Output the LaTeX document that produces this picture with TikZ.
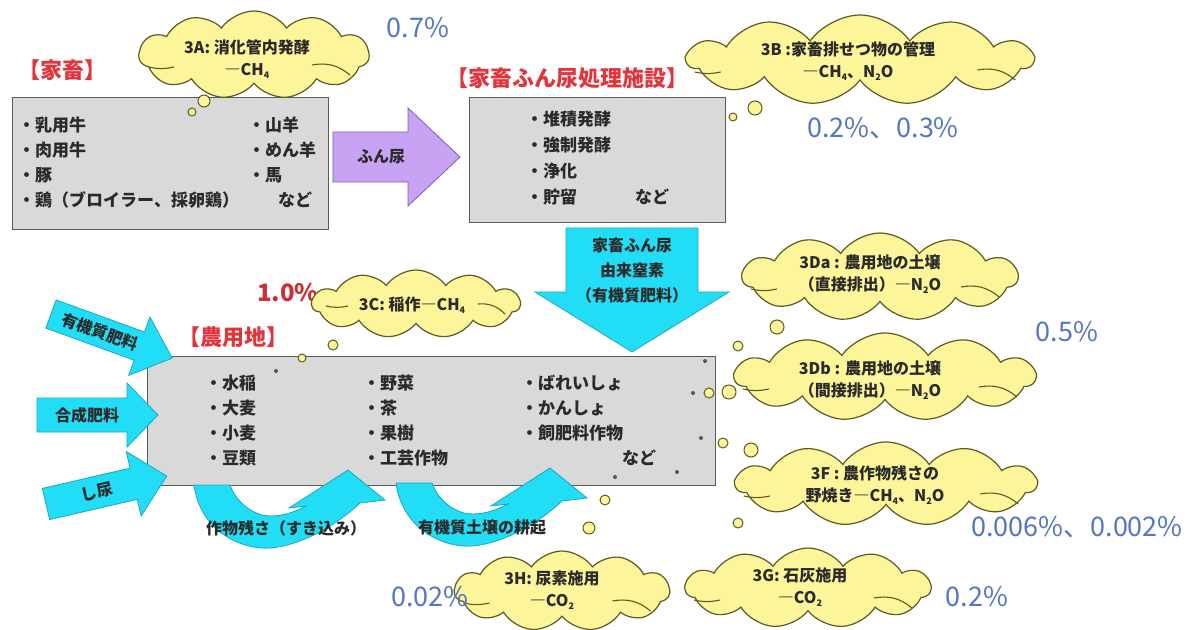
\documentclass[tikz,border=0pt]{standalone}
\usepackage{fontspec}
\setmainfont{Noto Sans CJK JP}
\usetikzlibrary{shapes.symbols}
\definecolor{boxgray}{HTML}{D9D9D9}
\definecolor{boxedge}{HTML}{5A5A5A}
\definecolor{txt}{HTML}{2A2A2A}
\definecolor{labred}{HTML}{E3343C}
\definecolor{pctblue}{HTML}{5576C4}
\definecolor{cloudfill}{HTML}{FCF59A}
\definecolor{cloudedge}{HTML}{5E5A22}
\definecolor{cyanf}{HTML}{22DDF6}
\definecolor{cyand}{HTML}{1AA8C0}
\definecolor{purf}{HTML}{C9A3F3}
\definecolor{purd}{HTML}{7F60A8}
\definecolor{dotc}{HTML}{555555}
\newcommand\sbs[1]{\raisebox{-0.3ex}{\fontsize{9}{9}\selectfont #1}}
\newcommand\cloudarcs[1]{%
  \draw[carc] ([shift={(10,12)}]#1.west) to[bend right=12] ([shift={(36,12)}]#1.west);
  \draw[carc] ([shift={(-58,10)}]#1.east) to[bend left=25] ([shift={(-20,20)}]#1.east);
}
\tikzset{
  grayb/.style={draw=boxedge, fill=boxgray, line width=1.4pt, anchor=north west, inner sep=0},
  item/.style={anchor=west, inner sep=0, font=\fontsize{17}{20}\selectfont\bfseries, text=txt},
  redlab/.style={text=labred, font=\fontsize{22}{24}\selectfont\bfseries, inner sep=0},
  pct/.style={text=pctblue, font=\fontsize{27}{30}\selectfont, inner sep=0},
  cloudbox/.style={cloud, cloud puffs=11, cloud puff arc=110, cloud ignores aspect, draw=cloudedge, fill=cloudfill, line width=1.2pt, inner sep=0},
  carc/.style={draw=cloudedge, line width=1.1pt},
  ctext/.style={align=center, font=\fontsize{16}{22}\selectfont\bfseries, text=txt, inner sep=0},
  bub/.style={draw=cloudedge, fill=cloudfill, line width=1pt},
  cyanarrow/.style={fill=cyanf, draw=cyand, line width=0.8pt},
  purplearrow/.style={fill=purf, draw=purd, line width=0.8pt},
  atext/.style={font=\fontsize{16}{19}\selectfont\bfseries, text=txt, inner sep=0},
  curvarrow/.pic={
    \path[cyanarrow] (194,485) .. controls (200,530) and (240,550) .. (270,548)
      .. controls (305,545) and (340,522) .. (360,503) -- (385,500) -- (348,470)
      -- (289,508) -- (306,506) .. controls (292,514) and (274,518) .. (262,515)
      .. controls (245,510) and (234,497) .. (230,485) -- cycle;
  }
}
\begin{document}
\begin{tikzpicture}[x=1pt,y=-1pt]
\useasboundingbox (0,0) rectangle (1204,629);
\fill[white] (0,0) rectangle (1204,629);

% ---------- livestock ----------
\node[redlab] (labA) at (62,70) {【家畜】};
\node[grayb, minimum width=316, minimum height=132] (boxA) at (12,97) {};
\node[item] (a1) at (18,125) {・乳用牛};
\node[item] (a2) at (18,150) {・肉用牛};
\node[item] (a3) at (18,175) {・豚};
\node[item] (a4) at (18,200) {・鶏（ブロイラー、採卵鶏）};
\node[item] (a5) at (248,125) {・山羊};
\node[item] (a6) at (248,150) {・めん羊};
\node[item] (a7) at (248,175) {・馬};
\node[item] (a8) at (278,200) {など};

\node[cloudbox, minimum width=230, minimum height=88] (c3a) at (254,55) {};
\cloudarcs{c3a}
\node[ctext] (t3a) at (247,59) {3A: 消化管内発酵\\―CH\sbs{4}};
\draw[bub] (204,101) circle[radius=6pt];
\draw[bub] (192,112) circle[radius=4pt];
\node[pct] (p07) at (418,28) {0.7\%};

% ---------- purple arrow ----------
\path[purplearrow] (333,132) -- (408,132) -- (408,108) -- (460,157) -- (408,206) -- (408,182) -- (333,182) -- cycle;
\node[atext] (tfun) at (381,157) {ふん尿};

% ---------- manure facility ----------
\node[redlab] (labB) at (567,78) {【家畜ふん尿処理施設】};
\node[grayb, minimum width=256, minimum height=125] (boxB) at (469,97) {};
\node[item] (b1) at (526,119) {・堆積発酵};
\node[item] (b2) at (526,145) {・強制発酵};
\node[item] (b3) at (526,171) {・浄化};
\node[item] (b4) at (526,197) {・貯留};
\node[item] (b5) at (635,197) {など};

\node[cloudbox, minimum width=345, minimum height=90] (c3b) at (860,60) {};
\cloudarcs{c3b}
\node[ctext] (t3b) at (848,61) {3B :家畜排せつ物の管理\\―CH\sbs{4}、N\sbs{2}O};
\draw[bub] (733,117) circle[radius=4pt];
\draw[bub] (755,108) circle[radius=7pt];
\node[pct] (p0203) at (883,128) {0.2\%、0.3\%};

% ---------- down arrow ----------
\path[cyanarrow] (566,228) -- (698,228) -- (698,292) -- (729,292) -- (632,352) -- (535,292) -- (566,292) -- cycle;
\node[atext, align=center, font=\fontsize{16}{25}\selectfont\bfseries] (tdown) at (632,270) {家畜ふん尿\\由来窒素\\（有機質肥料）};

% ---------- farmland ----------
\node[redlab] (labC) at (233,337) {【農用地】};
\node[grayb, minimum width=568, minimum height=129] (boxC) at (147,356) {};
\node[item] (f1) at (205,383) {・水稲};
\node[item] (f2) at (205,408) {・大麦};
\node[item] (f3) at (205,433) {・小麦};
\node[item] (f4) at (205,458) {・豆類};
\node[item] (f5) at (363,383) {・野菜};
\node[item] (f6) at (363,408) {・茶};
\node[item] (f7) at (363,433) {・果樹};
\node[item] (f8) at (363,458) {・工芸作物};
\node[item] (f9) at (521,383) {・ばれいしょ};
\node[item] (f10) at (521,408) {・かんしょ};
\node[item] (f11) at (521,433) {・飼肥料作物};
\node[item] (f12) at (622,458) {など};

\foreach \p in {(276,371),(705,361),(693,393),(701,438),(677,472),(615,477)}
  \fill[dotc] \p circle[radius=2pt];

% 3C
\node[text=labred!90!black, font=\fontsize{24}{26}\selectfont\bfseries, inner sep=0] (p10) at (288,293) {1.0\%};
\node[cloudbox, minimum width=208, minimum height=68] (c3c) at (416,304) {};
\draw[carc] (326,306) to[bend right=12] (348,306);
\draw[carc] (478,304) to[bend left=25] (505,314);
\node[ctext] (t3c) at (412,305) {3C: 稲作―CH\sbs{4}};
\draw[bub] (333,345) circle[radius=5pt];
\draw[bub] (302,358) circle[radius=4pt];

% ---------- left input arrows ----------
\begin{scope}[shift={(51,314)}, rotate=-20]
  \path[cyanarrow] (0,-15) -- (94,-15) -- (94,-31) -- (129,0) -- (94,31) -- (94,15) -- (0,15) -- cycle;
\end{scope}
\node[atext, rotate=-20] (tyuki) at (100,332) {有機質肥料};
\path[cyanarrow] (37,398) -- (127,398) -- (127,383) -- (158,415) -- (127,447) -- (127,432) -- (37,432) -- cycle;
\node[atext] (tgosei) at (87,415) {合成肥料};
\begin{scope}[shift={(46,504)}, rotate=13]
  \path[cyanarrow] (0,-16) -- (90,-16) -- (90,-33) -- (124,0) -- (90,33) -- (90,16) -- (0,16) -- cycle;
\end{scope}
\node[atext, rotate=13] (tshinyo) at (97,492) {し尿};

% ---------- curved arrows ----------
\pic at (0,0) {curvarrow};
\pic at (202,-2) {curvarrow};
\node[atext] (tzan) at (286,528) {作物残さ（すき込み）};
\node[atext] (tkou) at (482,528) {有機質土壌の耕起};

% ---------- right clouds ----------
\draw[bub] (777,327) circle[radius=7pt];
\draw[bub] (738,346) circle[radius=5pt];
\draw[bub] (709,393) circle[radius=5pt];
\draw[bub] (729,392) circle[radius=7pt];
\draw[bub] (723,443) circle[radius=5pt];
\draw[bub] (751,450) circle[radius=7pt];
\draw[bub] (738,523) circle[radius=5pt];
\draw[bub] (605,500) circle[radius=5pt];
\draw[bub] (589,528) circle[radius=6pt];

\node[cloudbox, minimum width=275, minimum height=88] (c3da) at (880,277) {};
\cloudarcs{c3da}
\node[ctext] (t3da) at (870,274) {3Da : 農用地の土壌\\（直接排出）―N\sbs{2}O};
\node[cloudbox, minimum width=300, minimum height=88] (c3db) at (885,377) {};
\cloudarcs{c3db}
\node[ctext] (t3db) at (870,380) {3Db : 農用地の土壌\\（間接排出）―N\sbs{2}O};
\node[cloudbox, minimum width=300, minimum height=84] (c3f) at (886,484) {};
\cloudarcs{c3f}
\node[ctext] (t3f) at (875,485) {3F : 農作物残さの\\野焼き―CH\sbs{4}、N\sbs{2}O};
\node[pct] (p05) at (1067,332) {0.5\%};
\node[pct] (p006) at (1077,527) {0.006\%、0.002\%};

% ---------- bottom clouds ----------
\node[cloudbox, minimum width=215, minimum height=80] (c3h) at (562,591) {};
\cloudarcs{c3h}
\node[ctext] (t3h) at (552,590) {3H:  尿素施用\\―CO\sbs{2}};
\node[pct] (p002) at (430,597) {0.02\%};
\node[cloudbox, minimum width=245, minimum height=80] (c3g) at (808,588) {};
\cloudarcs{c3g}
\node[ctext] (t3g) at (800,587) {3G:  石灰施用\\―CO\sbs{2}};
\node[pct] (p02) at (977,597) {0.2\%};
\end{tikzpicture}
\end{document}
